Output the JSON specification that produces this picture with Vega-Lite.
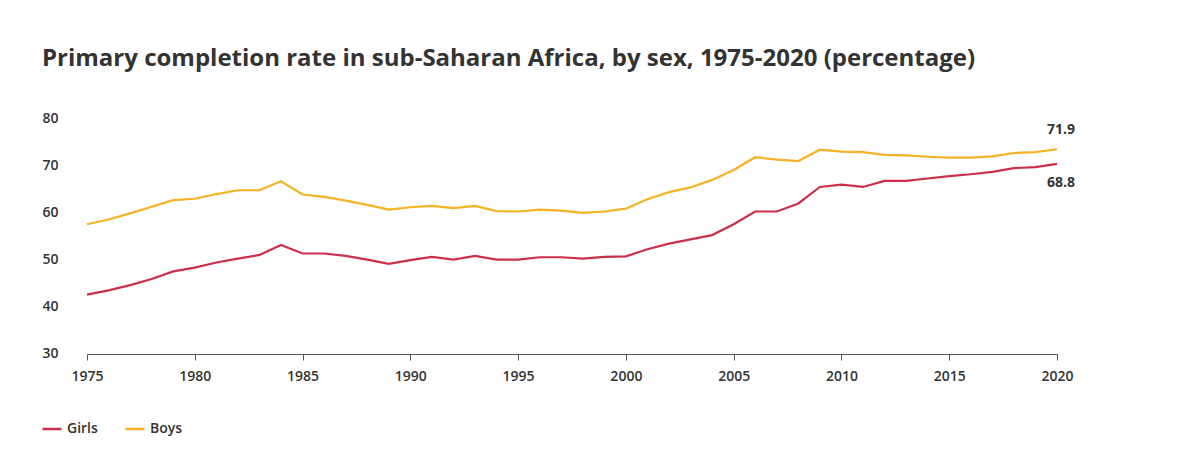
{
  "$schema": "https://vega.github.io/schema/vega-lite/v6.json",
  "autosize": "none",
  "width": 970,
  "height": 243,
  "padding": {"left": 87, "top": 111, "right": 131, "bottom": 122},
  "background": "white",
  "config": {
    "view": {"stroke": null},
    "font": "Open Sans"
  },
  "title": {
    "text": "Primary completion rate in sub-Saharan Africa, by sex, 1975-2020 (percentage)",
    "anchor": "start",
    "frame": "group",
    "dx": -45,
    "offset": 40,
    "fontSize": 24,
    "fontWeight": 700,
    "color": "#333333",
    "font": "Open Sans"
  },
  "datasets": {
    "rates": [
      {"year": 1975, "sex": "Girls", "rate": 41.1}, {"year": 1975, "sex": "Boys", "rate": 56.0},
      {"year": 1976, "sex": "Girls", "rate": 42.0}, {"year": 1976, "sex": "Boys", "rate": 57.0},
      {"year": 1977, "sex": "Girls", "rate": 43.1}, {"year": 1977, "sex": "Boys", "rate": 58.3},
      {"year": 1978, "sex": "Girls", "rate": 44.4}, {"year": 1978, "sex": "Boys", "rate": 59.7},
      {"year": 1979, "sex": "Girls", "rate": 46.0}, {"year": 1979, "sex": "Boys", "rate": 61.1},
      {"year": 1980, "sex": "Girls", "rate": 46.8}, {"year": 1980, "sex": "Boys", "rate": 61.4},
      {"year": 1981, "sex": "Girls", "rate": 47.9}, {"year": 1981, "sex": "Boys", "rate": 62.4},
      {"year": 1982, "sex": "Girls", "rate": 48.7}, {"year": 1982, "sex": "Boys", "rate": 63.2},
      {"year": 1983, "sex": "Girls", "rate": 49.5}, {"year": 1983, "sex": "Boys", "rate": 63.2},
      {"year": 1984, "sex": "Girls", "rate": 51.6}, {"year": 1984, "sex": "Boys", "rate": 65.1},
      {"year": 1985, "sex": "Girls", "rate": 49.8}, {"year": 1985, "sex": "Boys", "rate": 62.3},
      {"year": 1986, "sex": "Girls", "rate": 49.8}, {"year": 1986, "sex": "Boys", "rate": 61.8},
      {"year": 1987, "sex": "Girls", "rate": 49.3}, {"year": 1987, "sex": "Boys", "rate": 61.0},
      {"year": 1988, "sex": "Girls", "rate": 48.5}, {"year": 1988, "sex": "Boys", "rate": 60.1},
      {"year": 1989, "sex": "Girls", "rate": 47.6}, {"year": 1989, "sex": "Boys", "rate": 59.1},
      {"year": 1990, "sex": "Girls", "rate": 48.4}, {"year": 1990, "sex": "Boys", "rate": 59.6},
      {"year": 1991, "sex": "Girls", "rate": 49.1}, {"year": 1991, "sex": "Boys", "rate": 59.9},
      {"year": 1992, "sex": "Girls", "rate": 48.5}, {"year": 1992, "sex": "Boys", "rate": 59.4},
      {"year": 1993, "sex": "Girls", "rate": 49.3}, {"year": 1993, "sex": "Boys", "rate": 59.9},
      {"year": 1994, "sex": "Girls", "rate": 48.5}, {"year": 1994, "sex": "Boys", "rate": 58.8},
      {"year": 1995, "sex": "Girls", "rate": 48.5}, {"year": 1995, "sex": "Boys", "rate": 58.7},
      {"year": 1996, "sex": "Girls", "rate": 49.0}, {"year": 1996, "sex": "Boys", "rate": 59.1},
      {"year": 1997, "sex": "Girls", "rate": 49.0}, {"year": 1997, "sex": "Boys", "rate": 58.9},
      {"year": 1998, "sex": "Girls", "rate": 48.7}, {"year": 1998, "sex": "Boys", "rate": 58.4},
      {"year": 1999, "sex": "Girls", "rate": 49.1}, {"year": 1999, "sex": "Boys", "rate": 58.7},
      {"year": 2000, "sex": "Girls", "rate": 49.2}, {"year": 2000, "sex": "Boys", "rate": 59.3},
      {"year": 2001, "sex": "Girls", "rate": 50.7}, {"year": 2001, "sex": "Boys", "rate": 61.3},
      {"year": 2002, "sex": "Girls", "rate": 51.9}, {"year": 2002, "sex": "Boys", "rate": 62.8},
      {"year": 2003, "sex": "Girls", "rate": 52.8}, {"year": 2003, "sex": "Boys", "rate": 63.8},
      {"year": 2004, "sex": "Girls", "rate": 53.7}, {"year": 2004, "sex": "Boys", "rate": 65.4},
      {"year": 2005, "sex": "Girls", "rate": 56.0}, {"year": 2005, "sex": "Boys", "rate": 67.5},
      {"year": 2006, "sex": "Girls", "rate": 58.7}, {"year": 2006, "sex": "Boys", "rate": 70.2},
      {"year": 2007, "sex": "Girls", "rate": 58.7}, {"year": 2007, "sex": "Boys", "rate": 69.7},
      {"year": 2008, "sex": "Girls", "rate": 60.4}, {"year": 2008, "sex": "Boys", "rate": 69.4},
      {"year": 2009, "sex": "Girls", "rate": 63.9}, {"year": 2009, "sex": "Boys", "rate": 71.8},
      {"year": 2010, "sex": "Girls", "rate": 64.4}, {"year": 2010, "sex": "Boys", "rate": 71.4},
      {"year": 2011, "sex": "Girls", "rate": 63.9}, {"year": 2011, "sex": "Boys", "rate": 71.3},
      {"year": 2012, "sex": "Girls", "rate": 65.2}, {"year": 2012, "sex": "Boys", "rate": 70.7},
      {"year": 2013, "sex": "Girls", "rate": 65.2}, {"year": 2013, "sex": "Boys", "rate": 70.6},
      {"year": 2014, "sex": "Girls", "rate": 65.7}, {"year": 2014, "sex": "Boys", "rate": 70.3},
      {"year": 2015, "sex": "Girls", "rate": 66.2}, {"year": 2015, "sex": "Boys", "rate": 70.1},
      {"year": 2016, "sex": "Girls", "rate": 66.6}, {"year": 2016, "sex": "Boys", "rate": 70.1},
      {"year": 2017, "sex": "Girls", "rate": 67.1}, {"year": 2017, "sex": "Boys", "rate": 70.4},
      {"year": 2018, "sex": "Girls", "rate": 67.9}, {"year": 2018, "sex": "Boys", "rate": 71.1},
      {"year": 2019, "sex": "Girls", "rate": 68.1}, {"year": 2019, "sex": "Boys", "rate": 71.3},
      {"year": 2020, "sex": "Girls", "rate": 68.8}, {"year": 2020, "sex": "Boys", "rate": 71.9}
    ]
  },
  "data": {"name": "rates"},
  "encoding": {
    "x": {
      "field": "year",
      "type": "quantitative",
      "scale": {"domain": [1975, 2020], "nice": false, "zero": false},
      "axis": {
        "title": null,
        "values": [1975, 1980, 1985, 1990, 1995, 2000, 2005, 2010, 2015, 2020],
        "format": "d",
        "grid": false,
        "labelFlush": false,
        "domainColor": "#555555",
        "tickColor": "#555555",
        "tickSize": 6,
        "labelPadding": 9,
        "labelFontSize": 14,
        "labelFontWeight": 600,
        "labelColor": "#333333",
        "labelFont": "Open Sans"
      }
    },
    "y": {
      "field": "rate",
      "type": "quantitative",
      "scale": {"domain": [28.5, 80], "nice": false, "zero": false},
      "axis": {
        "title": null,
        "values": [30, 40, 50, 60, 70, 80],
        "grid": false,
        "domain": false,
        "ticks": false,
        "labelBaseline": "top",
        "labelPadding": 29,
        "labelFontSize": 14,
        "labelFontWeight": 600,
        "labelColor": "#333333",
        "labelFont": "Open Sans"
      }
    }
  },
  "layer": [
    {
      "mark": {"type": "line", "strokeWidth": 2.2},
      "encoding": {
        "color": {
          "field": "sex",
          "type": "nominal",
          "scale": {"domain": ["Girls", "Boys"], "range": ["#cc2f4a", "#f5b324"]},
          "legend": {
            "title": null,
            "orient": "none",
            "legendX": -46,
            "legendY": 307,
            "direction": "horizontal",
            "symbolType": "stroke",
            "symbolSize": 360,
            "symbolStrokeWidth": 2.5,
            "columnPadding": 22,
            "labelFontSize": 14,
            "labelFontWeight": 600,
            "labelColor": "#333333",
            "labelFont": "Open Sans"
          }
        }
      }
    },
    {
      "transform": [{"filter": "datum.year == 2020 && datum.sex == 'Boys'"}],
      "mark": {"type": "text", "dx": 4, "dy": -19, "fontSize": 14, "fontWeight": 700, "color": "#333333", "font": "Open Sans"},
      "encoding": {"text": {"field": "rate", "type": "quantitative", "format": ".1f"}}
    },
    {
      "transform": [{"filter": "datum.year == 2020 && datum.sex == 'Girls'"}],
      "mark": {"type": "text", "dx": 4, "dy": 19, "fontSize": 14, "fontWeight": 700, "color": "#333333", "font": "Open Sans"},
      "encoding": {"text": {"field": "rate", "type": "quantitative", "format": ".1f"}}
    }
  ]
}
